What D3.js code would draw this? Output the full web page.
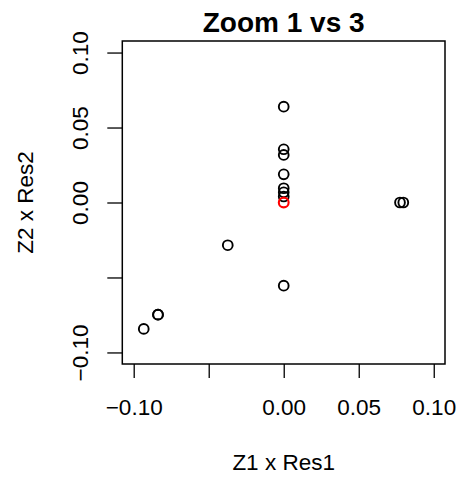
<!DOCTYPE html>
<html>
<head>
<meta charset="utf-8">
<script src="https://cdn.jsdelivr.net/npm/d3@7"></script>
<style>
  html, body { margin: 0; padding: 0; background: #fff; }
  svg { display: block; font-family: "Liberation Sans", Arial, Helvetica, sans-serif; }
</style>
</head>
<body>
<svg id="chart" width="458" height="478"></svg>
<script>
// ---- data ----
const title = "Zoom 1 vs 3";
const xLabel = "Z1 x Res1";
const yLabel = "Z2 x Res2";
const xValues = [0, 0, 0, 0, 0, 0, 0, 0.0775, 0.0797, -0.0373, 0, -0.0838, -0.0838, -0.0933];
const yValues = [0.0639, 0.0355, 0.0317, 0.0188, 0.0095, 0.0068, 0.0040, 0, 0, -0.0285, -0.0555, -0.0748, -0.0748, -0.0843];
const highlightX = [0];
const highlightY = [0];
const tickValues = [-0.10, -0.05, 0.00, 0.05, 0.10];
const tickLabels = ["\u22120.10", "", "0.00", "0.05", "0.10"];
const xDomain = [-0.1076, 0.1075];
const yDomain = [-0.1077, 0.1077];

// ---- layout ----
const svg = d3.select("#chart");
const plot = { left: 122.3, right: 445, top: 41, bottom: 364 };
const x = d3.scaleLinear().domain(xDomain).range([plot.left, plot.right]);
const y = d3.scaleLinear().domain(yDomain).range([plot.bottom, plot.top]);
const tickFmt = (d, i) => tickLabels[tickValues.indexOf(d)];
const fontSize = 22.5;

// x axis
const gx = svg.append("g")
  .attr("transform", `translate(0,${plot.bottom})`)
  .call(d3.axisBottom(x).tickValues(tickValues).tickFormat(tickFmt).tickSize(14).tickSizeOuter(0));
gx.select(".domain").remove();
gx.selectAll(".tick line").attr("stroke", "#000").attr("stroke-width", 1.3);
gx.selectAll(".tick text")
  .attr("y", 51).attr("dy", null)
  .attr("font-size", fontSize).attr("font-family", "Liberation Sans, Arial, sans-serif")
  .attr("fill", "#000");

// y axis
const gy = svg.append("g")
  .attr("transform", `translate(${plot.left},0)`)
  .call(d3.axisLeft(y).tickValues(tickValues).tickFormat(tickFmt).tickSize(15).tickSizeOuter(0));
gy.select(".domain").remove();
gy.selectAll(".tick line").attr("stroke", "#000").attr("stroke-width", 1.3);
gy.selectAll(".tick text")
  .attr("x", null).attr("dy", null).attr("y", null)
  .attr("text-anchor", "middle")
  .attr("transform", `translate(${88 - plot.left},0) rotate(-90)`)
  .attr("font-size", fontSize).attr("font-family", "Liberation Sans, Arial, sans-serif")
  .attr("fill", "#000");

// box
svg.append("rect")
  .attr("x", plot.left).attr("y", plot.top)
  .attr("width", plot.right - plot.left).attr("height", plot.bottom - plot.top)
  .attr("fill", "none").attr("stroke", "#000").attr("stroke-width", 1.5);

// points
const pts = xValues.map((v, i) => ({ x: v, y: yValues[i] }));
svg.append("g").selectAll("circle").data(pts).join("circle")
  .attr("cx", d => x(d.x)).attr("cy", d => y(d.y)).attr("r", 4.9)
  .attr("fill", "none").attr("stroke", "#000").attr("stroke-width", 1.9);

const hpts = highlightX.map((v, i) => ({ x: v, y: highlightY[i] }));
svg.append("g").selectAll("circle").data(hpts).join("circle")
  .attr("cx", d => x(d.x)).attr("cy", d => y(d.y)).attr("r", 4.9)
  .attr("fill", "none").attr("stroke", "#ff0000").attr("stroke-width", 2.1);

// titles
const cx = (plot.left + plot.right) / 2;
svg.append("text").attr("x", cx).attr("y", 32).attr("text-anchor", "middle")
  .attr("font-size", 28).attr("font-weight", "bold").attr("fill", "#000").text(title);
svg.append("text").attr("x", cx).attr("y", 470).attr("text-anchor", "middle")
  .attr("font-size", fontSize).attr("fill", "#000").text(xLabel);
svg.append("text").attr("transform", `translate(33,${(plot.top + plot.bottom) / 2}) rotate(-90)`)
  .attr("text-anchor", "middle")
  .attr("font-size", fontSize).attr("fill", "#000").text(yLabel);
</script>
</body>
</html>
